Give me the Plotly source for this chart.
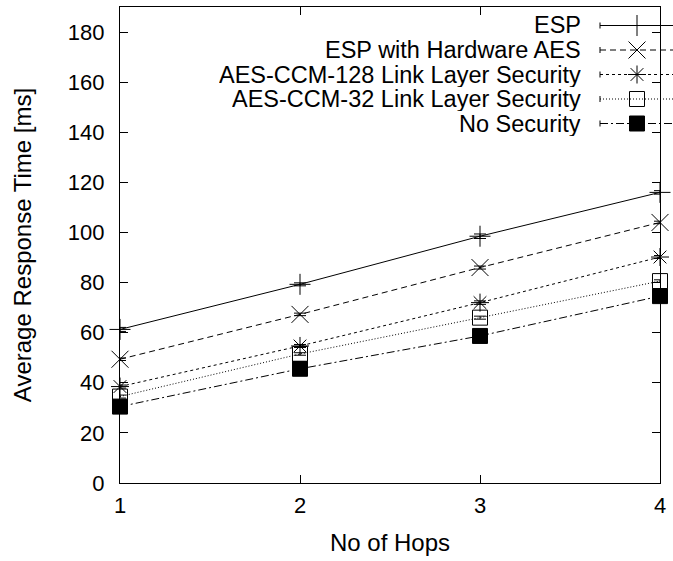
import plotly.graph_objects as go

hops = [1, 2, 3, 4]
series_names = ["ESP", "ESP with Hardware AES", "AES-CCM-128 Link Layer Security",
                "AES-CCM-32 Link Layer Security", "No Security"]
esp = [61.3, 79.3, 98.5, 116.0]
esp_hw = [49.4, 67.3, 86.0, 104.0]
ccm128 = [38.5, 54.7, 72.0, 90.2]
ccm32 = [34.5, 51.5, 66.0, 80.6]
nosec = [30.5, 45.6, 58.7, 74.6]
esp_err = [0.8, 0.6, 0.9, 0.7]
esp_hw_err = [0.5, 0.5, 0.6, 0.5]
ccm128_err = [0.6, 0.6, 0.7, 0.6]
ccm32_err = [0.6, 0.5, 0.6, 0.5]
nosec_err = [0.5, 0.5, 0.5, 0.5]

values = [esp, esp_hw, ccm128, ccm32, nosec]
errors = [esp_err, esp_hw_err, ccm128_err, ccm32_err, nosec_err]
symbols = ["cross-thin-open", "x-thin-open", "asterisk-open", "square-open", "square"]
sizes = [15, 17, 15, 15, 15]
dashes = ["solid", "6px,4px", "3px,3px", "1px,2px", "8px,3px,2px,3px"]

W, H = 673, 561
L, R, T, B = 120, 13, 7, 78
pw, ph = W - L - R, H - T - B

def px_x(px):
    return (px - L) / pw

def px_y(py):
    return (H - B - py) / ph

fig = go.Figure()
for name, v, e, s, sz, d in zip(series_names, values, errors, symbols, sizes, dashes):
    fig.add_trace(go.Scatter(
        x=hops, y=v, name=name, mode="lines+markers", cliponaxis=False,
        line=dict(color="black", width=1, dash=d),
        marker=dict(symbol=s, size=sz, color="black", line=dict(color="black", width=1)),
        error_y=dict(type="data", array=e, visible=True, color="black", thickness=1, width=6),
        showlegend=False,
    ))

# custom gnuplot-style key (text right aligned, sample to the right)
row_y = [25.5, 50, 74.5, 99, 123.5]
text_right = 582
samp_l, samp_r, mark_x = 600, 676, 637
shapes = []
annotations = []
leg_x, leg_y = [], []
for name, yy, d in zip(series_names, row_y, dashes):
    annotations.append(dict(x=px_x(text_right), y=px_y(yy), xref="paper", yref="paper",
                            text=name, showarrow=False, xanchor="right", yanchor="middle",
                            font=dict(size=23.5, color="black"), borderpad=0, height=24))
    shapes.append(dict(type="line", xref="paper", yref="paper",
                       x0=px_x(samp_l), x1=px_x(samp_r), y0=px_y(yy), y1=px_y(yy),
                       line=dict(color="black", width=1, dash=d)))
    shapes.append(dict(type="line", xref="paper", yref="paper",
                       x0=px_x(samp_l), x1=px_x(samp_l), y0=px_y(yy - 3), y1=px_y(yy + 3),
                       line=dict(color="black", width=1)))
    leg_x.append(px_x(mark_x))
    leg_y.append(px_y(yy))

fig.add_trace(go.Scatter(
    x=leg_x, y=leg_y, xaxis="x2", yaxis="y2", mode="markers",
    marker=dict(symbol=symbols, size=sizes, color="black", opacity=1,
                line=dict(color="black", width=1)),
    showlegend=False, cliponaxis=False, hoverinfo="skip",
))

axis_common = dict(showline=True, linecolor="black", linewidth=1.2, mirror="allticks",
                   ticks="inside", ticklen=8, tickcolor="black", tickwidth=1,
                   showgrid=False, zeroline=False,
                   tickfont=dict(size=22, color="black"))

fig.update_layout(
    width=W, height=H,
    margin=dict(l=L, r=R, t=T, b=B),
    paper_bgcolor="white", plot_bgcolor="white",
    font=dict(family="Liberation Sans, Arial, sans-serif", color="black"),
    xaxis=dict(range=[1, 4], tickvals=hops, ticktext=[str(h) for h in hops],
               title=dict(text="No of Hops", font=dict(size=24), standoff=17),
               ticklabelstandoff=2, **axis_common),
    yaxis=dict(range=[0, 190], tickvals=list(range(0, 181, 20)),
               title=dict(text="Average Response Time [ms]", font=dict(size=24), standoff=29),
               ticklabelstandoff=10, **axis_common),
    xaxis2=dict(range=[0, 1], overlaying="x", visible=False, fixedrange=True),
    yaxis2=dict(range=[0, 1], overlaying="y", visible=False, fixedrange=True),
    shapes=shapes, annotations=annotations,
    showlegend=False,
)

fig.write_html("out.html")
